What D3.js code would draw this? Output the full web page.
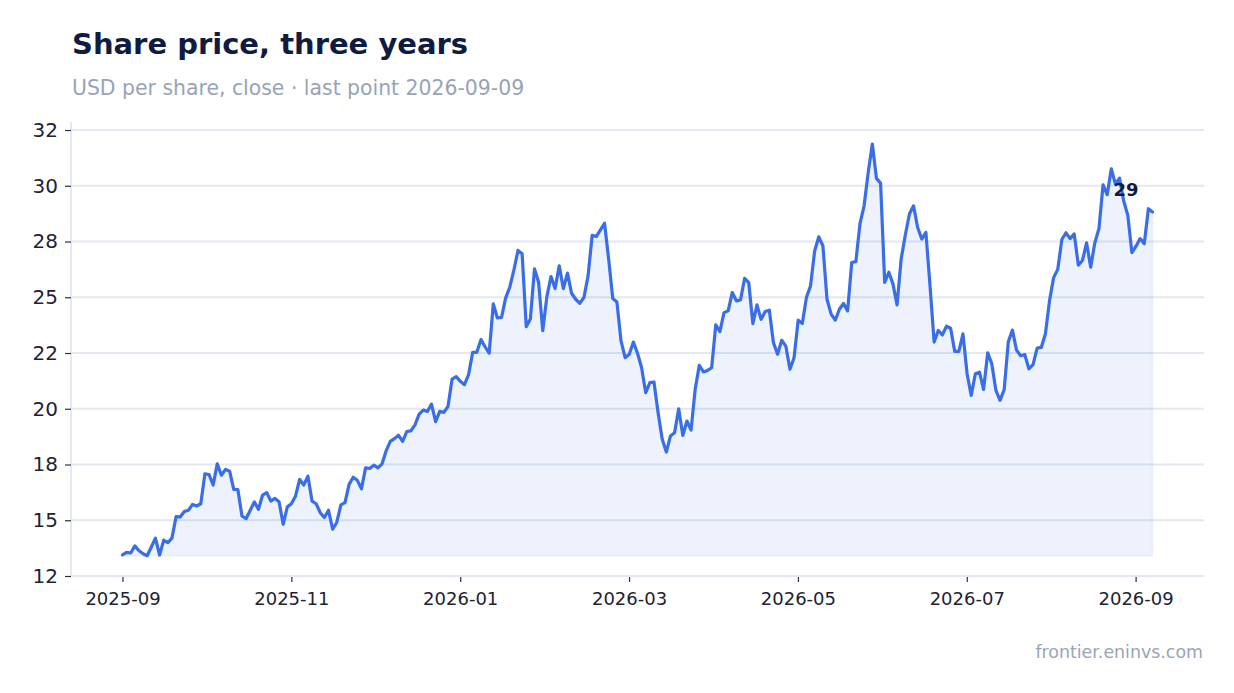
<!DOCTYPE html>
<html>
<head>
<meta charset="utf-8">
<script src="https://cdn.jsdelivr.net/npm/d3@7"></script>
<style>
  html, body { margin: 0; padding: 0; background: #ffffff; }
  svg { display: block; font-family: "DejaVu Sans", sans-serif; }
</style>
</head>
<body>
<svg id="chart" width="1234" height="693"></svg>
<script>

// daily closes (first point 2025-09-01, last at the right edge)
var firstDate = "2025-09-01";
var lastDate = "2026-09-07";

var closesSep = [13.45, 13.56, 13.53, 13.85, 13.63, 13.50, 13.41, 13.80, 14.20, 13.44, 14.11, 14.00, 14.20, 15.16, 15.15, 15.39, 15.45, 15.71, 15.64, 15.74, 17.08, 17.05, 16.58, 17.53, 17.02, 17.28, 17.20, 16.38, 16.38, 15.19, 15.07, 15.45, 15.82, 15.49, 16.13];
var closesNov = [16.24, 15.86, 15.98, 15.83, 14.82, 15.60, 15.74, 16.09, 16.83, 16.58, 16.98, 15.86, 15.74, 15.34, 15.12, 15.45, 14.60, 14.90, 15.69, 15.79, 16.61, 16.93, 16.79, 16.41, 17.35, 17.32, 17.47, 17.35, 17.53, 18.12, 18.54, 18.66, 18.81, 18.54];
var closesJan = [18.98, 19.01, 19.28, 19.76, 19.94, 19.88, 20.21, 19.42, 19.88, 19.84, 20.10, 21.33, 21.44, 21.23, 21.08, 21.53, 22.53, 22.53, 23.10, 22.78, 22.49, 24.70, 24.07, 24.10, 24.97, 25.45, 26.23, 27.10, 26.95, 23.68, 24.03, 26.27, 25.67, 23.50, 25.03, 25.93];
var closesMar = [25.39, 26.41, 25.39, 26.08, 25.18, 24.91, 24.73, 24.99, 25.96, 27.78, 27.72, 28.02, 28.32, 26.71, 24.94, 24.79, 23.04, 22.29, 22.44, 22.99, 22.49, 21.84, 20.72, 21.17, 21.20, 19.82, 18.63, 18.06, 18.78, 18.92, 20.00, 18.80, 19.45, 19.04, 20.87, 21.95, 21.65];
var closesApr = [21.72, 21.84, 23.76, 23.46, 24.31, 24.39, 25.21, 24.84, 24.88, 25.85, 25.66, 23.82, 24.66, 24.01, 24.36, 24.42, 22.96, 22.44, 23.07, 22.81, 21.77, 22.29, 23.97, 23.82, 24.99, 25.51, 27.08, 27.71, 27.31, 24.91, 24.24, 23.97, 24.46, 24.72, 24.39, 26.56, 26.60];
var closesJun = [28.30, 29.10, 30.60, 31.87, 30.33, 30.12, 25.67, 26.12, 25.60, 24.66, 26.72, 27.79, 28.73, 29.10, 28.13, 27.61, 27.91, 25.52, 22.99, 23.51, 23.31, 23.70, 23.61, 22.57, 22.57, 23.36, 21.57, 20.60, 21.57, 21.64, 20.87, 22.51, 22.01, 20.82, 20.38, 20.86];
var closesJul = [23.00, 23.53, 22.63, 22.38, 22.43, 21.79, 21.98, 22.72, 22.75, 23.35, 24.84, 25.88, 26.25, 27.59, 27.89, 27.63, 27.84, 26.44, 26.65, 27.44, 26.35, 27.44, 28.08, 30.04, 29.60, 30.76, 30.07, 30.34, 29.33, 28.68, 27.00, 27.29, 27.63, 27.40, 28.97, 28.82];

var yTicks = [12.5, 15, 17.5, 20, 22.5, 25, 27.5, 30, 32.5];
var yTickLabels = ["12", "15", "18", "20", "22", "25", "28", "30", "32"];
var xTickLabels = ["2025-09", "2025-11", "2026-01", "2026-03", "2026-05", "2026-07", "2026-09"];

var closes = [].concat(closesSep, closesNov, closesJan, closesMar, closesApr, closesJun, closesJul);

// months are drawn with equal width, so position = months since Sep 2025 (+ fraction of month)
var parseDay = d3.timeParse("%Y-%m-%d");
var parseMonth = d3.timeParse("%Y-%m");
var origin = parseMonth(xTickLabels[0]);
function monthPos(date) {
  var m0 = d3.timeMonth.floor(date);
  var m1 = d3.timeMonth.offset(m0, 1);
  return d3.timeMonth.count(origin, m0) + (date - m0) / (m1 - m0);
}

var p0 = monthPos(parseDay(firstDate)), p1 = monthPos(parseDay(lastDate));
var data = closes.map(function (v, i) {
  return { pos: p0 + (p1 - p0) * i / (closes.length - 1), close: v };
});

var plotLeft = 71, plotRight = 1204, plotTop = 130, plotBottom = 576;
var pad = (p1 - p0) * 0.05;

var x = d3.scaleLinear()
  .domain([p0 - pad, p1 + pad])
  .range([plotLeft, plotRight]);

var y = d3.scaleLinear()
  .domain([12.5, 32.5])
  .range([plotBottom, plotTop]);

var svg = d3.select("#chart");

svg.append("text")
  .attr("x", 72).attr("y", 54)
  .attr("font-size", "29px").attr("font-weight", "bold")
  .attr("fill", "#0f1c3f")
  .text("Share price, three years");

svg.append("text")
  .attr("x", 72).attr("y", 95)
  .attr("font-size", "20.4px")
  .attr("fill", "#98a3b7")
  .text("USD per share, close · last point 2026-09-09");

// grid
svg.append("g")
  .selectAll("line")
  .data(yTicks)
  .enter().append("line")
  .attr("x1", plotLeft).attr("x2", plotRight)
  .attr("y1", function (d) { return y(d); })
  .attr("y2", function (d) { return y(d); })
  .attr("stroke", "#e3e8f1").attr("stroke-width", 2);

// left spine
svg.append("line")
  .attr("x1", plotLeft).attr("x2", plotLeft).attr("y1", 122).attr("y2", plotBottom)
  .attr("stroke", "#e3e8f1").attr("stroke-width", 2);

// area + line
var baseValue = d3.min(closes);

var area = d3.area()
  .x(function (d) { return x(d.pos); })
  .y0(y(baseValue))
  .y1(function (d) { return y(d.close); });

var line = d3.line()
  .x(function (d) { return x(d.pos); })
  .y(function (d) { return y(d.close); });

svg.append("path")
  .datum(data)
  .attr("d", area)
  .attr("fill", "#3b6fe8").attr("fill-opacity", 0.09)
  .attr("stroke", "#3b6fe8").attr("stroke-opacity", 0.06).attr("stroke-width", 2);

svg.append("path")
  .datum(data)
  .attr("d", line)
  .attr("fill", "none")
  .attr("stroke", "#3a6de8")
  .attr("stroke-width", 3.2)
  .attr("stroke-linejoin", "round")
  .attr("stroke-linecap", "round");

// axes
var yAxis = d3.axisLeft(y)
  .tickValues(yTicks)
  .tickFormat(function (d, i) { return yTickLabels[i]; })
  .tickSize(6).tickPadding(7);

var gy = svg.append("g")
  .attr("transform", "translate(" + plotLeft + ",0)")
  .call(yAxis);
gy.select(".domain").remove();
gy.selectAll(".tick line").attr("stroke", "#2a2f45").attr("stroke-width", 1.2);
gy.selectAll(".tick text")
  .attr("font-family", "DejaVu Sans").attr("font-size", "20px").attr("fill", "#1e2235");

var xAxis = d3.axisBottom(x)
  .tickValues(xTickLabels.map(function (s) { return monthPos(parseMonth(s)); }))
  .tickFormat(function (d, i) { return xTickLabels[i]; })
  .tickSize(6).tickPadding(10);

var gx = svg.append("g")
  .attr("transform", "translate(0," + plotBottom + ")")
  .call(xAxis);
gx.select(".domain").remove();
gx.selectAll(".tick line").attr("stroke", "#2a2f45").attr("stroke-width", 1.2);
gx.selectAll(".tick text")
  .attr("font-family", "DejaVu Sans").attr("font-size", "18px").attr("fill", "#1e2235");

svg.append("line")
  .attr("x1", plotLeft).attr("x2", plotRight).attr("y1", plotBottom).attr("y2", plotBottom)
  .attr("stroke", "#e3e8f1").attr("stroke-width", 2);

// last value label
var last = data[data.length - 1];
svg.append("text")
  .attr("x", x(last.pos) - 14)
  .attr("y", y(last.close) - 16)
  .attr("text-anchor", "end")
  .attr("font-size", "18px").attr("font-weight", "bold")
  .attr("fill", "#0f1c3f")
  .text(d3.format(".0f")(last.close));

svg.append("text")
  .attr("x", 1203).attr("y", 658)
  .attr("text-anchor", "end")
  .attr("font-size", "17.4px")
  .attr("fill", "#9aa5b8")
  .text("frontier.eninvs.com");

</script>
</body>
</html>
